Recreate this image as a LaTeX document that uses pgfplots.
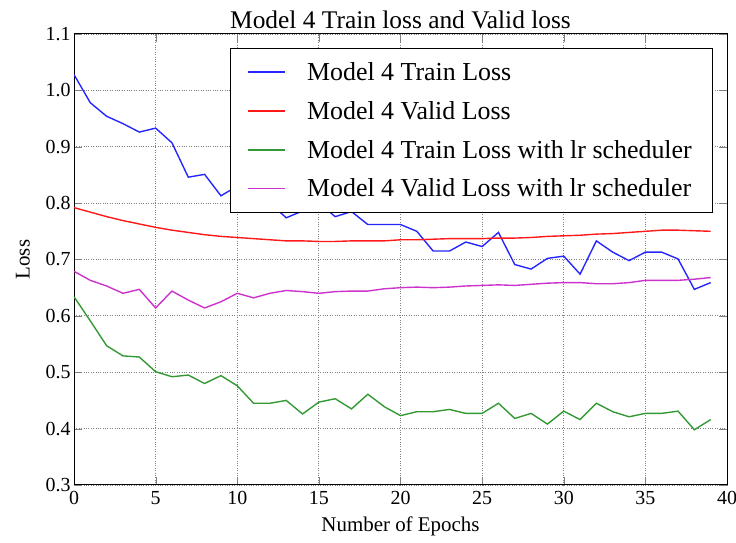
\documentclass[border=0pt]{standalone}
\usepackage{fontspec}
\setmainfont{Liberation Serif}
\usepackage{pgfplots}
\pgfplotsset{compat=1.18}
\definecolor{mblue}{rgb}{0.15,0.15,1}
\definecolor{mred}{rgb}{1,0.1,0.1}
\definecolor{mgreen}{rgb}{0.2,0.6,0.2}
\definecolor{mmag}{rgb}{0.8,0.2,0.8}
\begin{document}
\begin{tikzpicture}
\begin{axis}[
  scale only axis,
  width=653bp, height=451bp,
  xmin=0, xmax=40, ymin=0.3, ymax=1.1,
  xtick={0,5,...,40},
  ytick={0.3,0.4,...,1.1},
  /pgf/number format/assume math mode=true,
  yticklabel style={/pgf/number format/fixed,/pgf/number format/fixed zerofill,/pgf/number format/precision=1},
  xticklabel style={yshift=-3bp},
  tick label style={font=\fontsize{20}{24}\selectfont},
  grid=major,
  major grid style={dotted, gray, line width=0.8pt},
  tick align=inside,
  major tick length=8bp,
  axis line style={line width=1pt},
  title={Model 4 Train loss and Valid loss},
  title style={font=\fontsize{25.5}{30}\selectfont, yshift=-4bp},
  xlabel={Number of Epochs},
  ylabel={Loss},
  label style={font=\fontsize{21}{25}\selectfont},
  xlabel style={yshift=-5bp},
  ylabel style={yshift=9bp},
  legend style={at={(0.977,0.969)}, anchor=north east, draw=black,
    font=\fontsize{26}{30}\selectfont, row sep=15.5bp, inner xsep=18bp, inner ysep=12bp,
    legend cell align=left,
    /tikz/every odd column/.append style={column sep=19bp}},
  legend image code/.code={%
    \draw[mark repeat=2,mark phase=2,#1] plot coordinates {(0bp,0bp) (18bp,0bp) (37bp,0bp)};},
  every axis plot/.append style={line width=1.4pt},
]
\addplot[color=mblue] coordinates {
(0,1.028) (1,0.978) (2,0.954) (3,0.941) (4,0.926) (5,0.933) (6,0.907) (7,0.846) (8,0.851) (9,0.813)
(10,0.830) (11,0.820) (12,0.800) (13,0.774) (14,0.786) (15,0.800) (16,0.776) (17,0.785) (18,0.762) (19,0.762)
(20,0.762) (21,0.750) (22,0.715) (23,0.715) (24,0.731) (25,0.723) (26,0.748) (27,0.691) (28,0.683) (29,0.702)
(30,0.706) (31,0.674) (32,0.733) (33,0.713) (34,0.698) (35,0.713) (36,0.713) (37,0.701) (38,0.647) (39,0.659)};
\addlegendentry{Model 4 Train Loss}
\addplot[color=mred] coordinates {
(0,0.792) (1,0.784) (2,0.776) (3,0.769) (4,0.763) (5,0.757) (6,0.752) (7,0.748) (8,0.744) (9,0.741)
(10,0.739) (11,0.737) (12,0.735) (13,0.733) (14,0.733) (15,0.732) (16,0.732) (17,0.733) (18,0.733) (19,0.733)
(20,0.735) (21,0.735) (22,0.736) (23,0.737) (24,0.737) (25,0.737) (26,0.738) (27,0.738) (28,0.739) (29,0.741)
(30,0.742) (31,0.743) (32,0.745) (33,0.746) (34,0.748) (35,0.750) (36,0.752) (37,0.752) (38,0.751) (39,0.750)};
\addlegendentry{Model 4 Valid Loss}
\addplot[color=mgreen] coordinates {
(0,0.634) (1,0.591) (2,0.547) (3,0.529) (4,0.527) (5,0.501) (6,0.492) (7,0.495) (8,0.480) (9,0.494)
(10,0.476) (11,0.445) (12,0.445) (13,0.450) (14,0.426) (15,0.447) (16,0.453) (17,0.435) (18,0.461) (19,0.439)
(20,0.423) (21,0.430) (22,0.430) (23,0.434) (24,0.427) (25,0.427) (26,0.445) (27,0.418) (28,0.427) (29,0.408)
(30,0.431) (31,0.416) (32,0.445) (33,0.430) (34,0.421) (35,0.427) (36,0.427) (37,0.431) (38,0.398) (39,0.416)};
\addlegendentry{Model 4 Train Loss with lr scheduler}
\addplot[color=mmag] coordinates {
(0,0.679) (1,0.663) (2,0.653) (3,0.640) (4,0.647) (5,0.614) (6,0.644) (7,0.628) (8,0.614) (9,0.625)
(10,0.640) (11,0.632) (12,0.640) (13,0.645) (14,0.643) (15,0.640) (16,0.643) (17,0.644) (18,0.644) (19,0.648)
(20,0.650) (21,0.651) (22,0.650) (23,0.651) (24,0.653) (25,0.654) (26,0.655) (27,0.654) (28,0.656) (29,0.658)
(30,0.659) (31,0.659) (32,0.657) (33,0.657) (34,0.659) (35,0.663) (36,0.663) (37,0.663) (38,0.665) (39,0.668)};
\addlegendentry{Model 4 Valid Loss with lr scheduler}
\end{axis}
\pgfresetboundingbox
\path ([shift={(-74bp,-58bp)}]current axis.south west) rectangle ([shift={(9bp,34bp)}]current axis.north east);
\end{tikzpicture}
\end{document}
